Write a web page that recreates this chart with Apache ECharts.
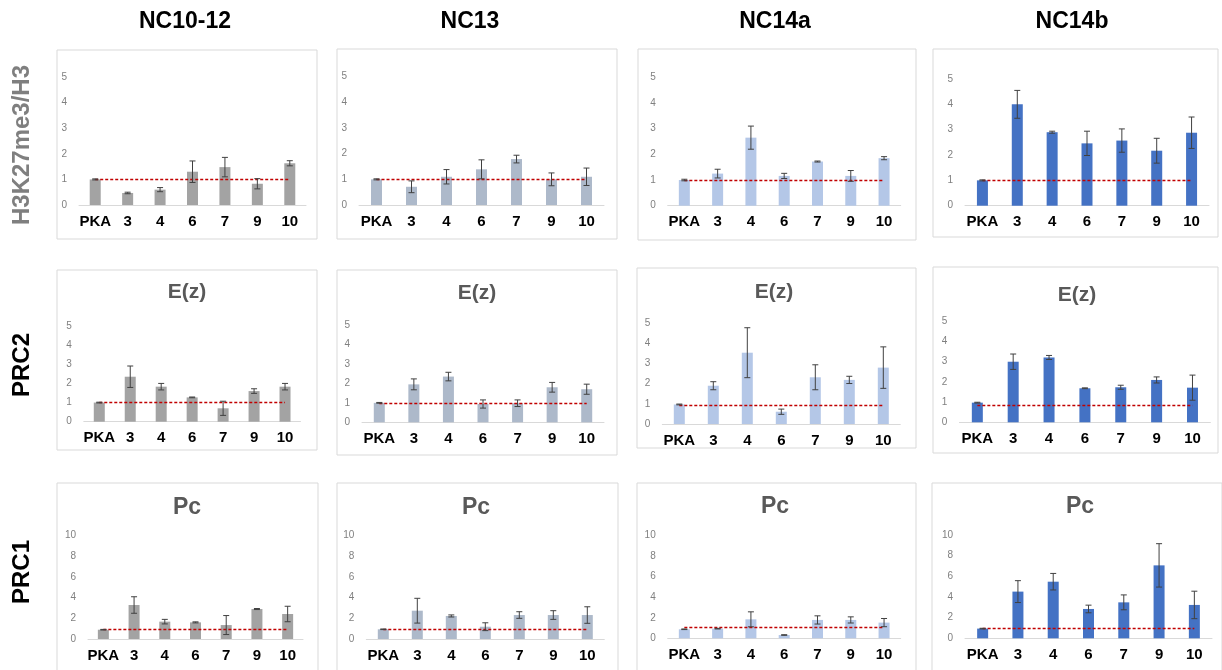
<!DOCTYPE html>
<html><head><meta charset="utf-8">
<script src="https://cdn.jsdelivr.net/npm/echarts@6/dist/echarts.min.js"></script>
<style>html,body{margin:0;padding:0;background:#fff}#c{width:1222px;height:670px}</style>
</head><body><div id="c"></div>
<script>
// ---------- data ----------
const categories = ['PKA', '3', '4', '6', '7', '9', '10'];
const columnLabels = ['NC10-12', 'NC13', 'NC14a', 'NC14b'];
const rowLabels = ['H3K27me3/H3', 'PRC2', 'PRC1'];
const panelTitles = ['', 'E(z)', 'Pc'];
const yMaxByRow = [5, 5, 10];
const yStepByRow = [1, 1, 2];

// H3K27me3/H3
const h3_NC10_12 = [1.0, 0.47, 0.6, 1.3, 1.48, 0.83, 1.63];
const h3_NC10_12_err = [0.02, 0.03, 0.08, 0.42, 0.38, 0.2, 0.1];
const h3_NC13 = [1.0, 0.71, 1.1, 1.39, 1.79, 1.0, 1.1];
const h3_NC13_err = [0.02, 0.23, 0.28, 0.37, 0.15, 0.25, 0.34];
const h3_NC14a = [1.0, 1.25, 2.65, 1.16, 1.72, 1.16, 1.85];
const h3_NC14a_err = [0.03, 0.17, 0.45, 0.1, 0.02, 0.21, 0.06];
const h3_NC14b = [1.0, 4.0, 2.9, 2.46, 2.57, 2.17, 2.88];
const h3_NC14b_err = [0.02, 0.55, 0.04, 0.48, 0.46, 0.49, 0.62];

// PRC2 E(z)
const ez_NC10_12 = [1.0, 2.35, 1.83, 1.27, 0.7, 1.6, 1.83];
const ez_NC10_12_err = [0.02, 0.56, 0.17, 0.02, 0.37, 0.12, 0.17];
const ez_NC13 = [1.0, 1.95, 2.35, 0.94, 0.98, 1.8, 1.7];
const ez_NC13_err = [0.02, 0.28, 0.22, 0.21, 0.17, 0.25, 0.26];
const ez_NC14a = [0.97, 1.9, 3.54, 0.61, 2.32, 2.19, 2.8];
const ez_NC14a_err = [0.02, 0.2, 1.24, 0.13, 0.62, 0.18, 1.03];
const ez_NC14b = [0.97, 2.99, 3.2, 1.68, 1.73, 2.09, 1.71];
const ez_NC14b_err = [0.02, 0.38, 0.1, 0.02, 0.1, 0.15, 0.62];

// PRC1 Pc
const pc_NC10_12 = [0.9, 3.29, 1.68, 1.61, 1.35, 2.9, 2.42];
const pc_NC10_12_err = [0.03, 0.8, 0.22, 0.05, 0.92, 0.05, 0.75];
const pc_NC13 = [0.94, 2.74, 2.23, 1.19, 2.32, 2.32, 2.32];
const pc_NC13_err = [0.03, 1.2, 0.1, 0.38, 0.32, 0.42, 0.8];
const pc_NC14a = [0.88, 0.94, 1.85, 0.32, 1.79, 1.79, 1.53];
const pc_NC14a_err = [0.03, 0.03, 0.73, 0.03, 0.4, 0.3, 0.4];
const pc_NC14b = [0.94, 4.52, 5.48, 2.84, 3.48, 7.06, 3.23];
const pc_NC14b_err = [0.03, 1.06, 0.8, 0.37, 0.72, 2.1, 1.33];

// reference (dashed) line level per panel
const refLevel = [1, 1, 1, 1,  1, 1, 0.92, 0.85,  0.94, 0.95, 1.04, 1.0];

const panelValues = [h3_NC10_12, h3_NC13, h3_NC14a, h3_NC14b,
                     ez_NC10_12, ez_NC13, ez_NC14a, ez_NC14b,
                     pc_NC10_12, pc_NC13, pc_NC14a, pc_NC14b];
const panelErrors = [h3_NC10_12_err, h3_NC13_err, h3_NC14a_err, h3_NC14b_err,
                     ez_NC10_12_err, ez_NC13_err, ez_NC14a_err, ez_NC14b_err,
                     pc_NC10_12_err, pc_NC13_err, pc_NC14a_err, pc_NC14b_err];

// ---------- layout & style ----------
const colColors = ['#A3A3A3', '#ADB9CA', '#B4C7E7', '#4472C4'];
const grids = [
  {left: 79, top: 77, width: 227, height: 128},
  {left: 359, top: 76.7, width: 245, height: 128.3},
  {left: 667.7, top: 77.3, width: 233, height: 128.4},
  {left: 965, top: 79, width: 244, height: 126.7},
  {left: 83.8, top: 326, width: 216.7, height: 95.7},
  {left: 362, top: 325, width: 242, height: 97.3},
  {left: 662.3, top: 323.3, width: 238, height: 100.7},
  {left: 959.4, top: 321, width: 251, height: 101.3},
  {left: 88, top: 535.7, width: 215, height: 103.3},
  {left: 366.3, top: 535.7, width: 238, height: 103.3},
  {left: 667.7, top: 535.7, width: 233, height: 102.6},
  {left: 965, top: 535, width: 247, height: 103.3}
];
const boxes = [
  [57, 50, 260, 189], [337, 49, 280, 190], [638, 49, 278, 191], [933, 49, 285, 188],
  [57, 270, 260, 180], [337, 270, 280, 185], [637, 268, 279, 180], [933, 267, 285, 186],
  [57, 483, 261, 200], [337, 483, 281, 200], [637, 483, 279, 200], [932, 483, 290, 200]
];
const titlePos = [
  null, null, null, null,
  [187, 292], [477, 293], [774, 292], [1077, 295],
  [187, 508], [476, 508], [775, 507], [1080, 507]
];
const titleSizeByRow = [0, 21, 23];
const colHeaderPos = [[185, 22], [470, 22], [775, 22], [1072, 22]];
const rowLabelPos = [[22, 145], [22, 365], [22, 572]];
const FONT = '"Liberation Sans", Arial, sans-serif';

const chart = echarts.init(document.getElementById('c'), null, {renderer: 'canvas'});

const option = {
  animation: false,
  backgroundColor: '#fff',
  grid: [], xAxis: [], yAxis: [], series: [], graphic: []
};

for (let p = 0; p < 12; p++) {
  const row = Math.floor(p / 4), col = p % 4;
  option.grid.push(Object.assign({containLabel: false}, grids[p]));
  option.xAxis.push({
    type: 'category', gridIndex: p, data: categories,
    axisTick: {show: false},
    axisLine: {lineStyle: {color: '#D9D9D9', width: 1}},
    axisLabel: {interval: 0, color: '#000', fontWeight: 'bold', fontSize: 15, fontFamily: FONT, margin: 9}
  });
  option.yAxis.push({
    type: 'value', gridIndex: p, min: 0, max: yMaxByRow[row], interval: yStepByRow[row],
    splitLine: {show: false}, axisLine: {show: false}, axisTick: {show: false},
    axisLabel: {color: '#808080', fontSize: 10, fontFamily: FONT, margin: 12}
  });
  const vals = panelValues[p], errs = panelErrors[p];
  option.series.push({
    type: 'bar', xAxisIndex: p, yAxisIndex: p, data: vals, barWidth: 11,
    itemStyle: {color: colColors[col]}, z: 2,
    markLine: {
      silent: true, symbol: ['none', 'none'], label: {show: false},
      lineStyle: {color: '#C00000', type: [3, 2], width: 1.3},
      data: [[{coord: [categories[0], refLevel[p]]}, {coord: [categories[categories.length - 1], refLevel[p]]}]]
    }
  });
  option.series.push({
    type: 'custom', xAxisIndex: p, yAxisIndex: p, z: 5,
    data: vals.map((v, i) => [i, v - errs[i], v + errs[i]]),
    encode: {x: 0, y: [1, 2]},
    renderItem: function (params, api) {
      const lo = api.coord([api.value(0), api.value(1)]);
      const hi = api.coord([api.value(0), api.value(2)]);
      const cw = 3;
      const st = {stroke: '#404040', lineWidth: 1};
      return {
        type: 'group', children: [
          {type: 'line', shape: {x1: hi[0], y1: hi[1], x2: lo[0], y2: lo[1]}, style: st},
          {type: 'line', shape: {x1: hi[0] - cw, y1: hi[1], x2: hi[0] + cw, y2: hi[1]}, style: st},
          {type: 'line', shape: {x1: lo[0] - cw, y1: lo[1], x2: lo[0] + cw, y2: lo[1]}, style: st}
        ]
      };
    }
  });
  const b = boxes[p];
  option.graphic.push({
    type: 'rect', z: 0, silent: true,
    shape: {x: b[0], y: b[1], width: b[2], height: b[3]},
    style: {fill: 'none', stroke: '#D9D9D9', lineWidth: 1}
  });
  if (panelTitles[row]) {
    option.graphic.push({
      type: 'text', x: titlePos[p][0], y: titlePos[p][1], silent: true,
      style: {text: panelTitles[row], fill: '#595959', font: 'bold ' + titleSizeByRow[row] + 'px ' + FONT,
              textAlign: 'center', textVerticalAlign: 'middle'}
    });
  }
}
columnLabels.forEach((t, i) => {
  option.graphic.push({
    type: 'text', x: colHeaderPos[i][0], y: colHeaderPos[i][1], silent: true,
    style: {text: t, fill: '#000', font: 'bold 23px ' + FONT, textAlign: 'center', textVerticalAlign: 'middle'}
  });
});
rowLabels.forEach((t, i) => {
  option.graphic.push({
    type: 'text', x: rowLabelPos[i][0], y: rowLabelPos[i][1], rotation: Math.PI / 2, silent: true,
    style: {text: t, fill: i === 0 ? '#7F7F7F' : '#000', font: 'bold 24px ' + FONT,
            textAlign: 'center', textVerticalAlign: 'middle'}
  });
});

chart.setOption(option);
</script>
</body></html>
